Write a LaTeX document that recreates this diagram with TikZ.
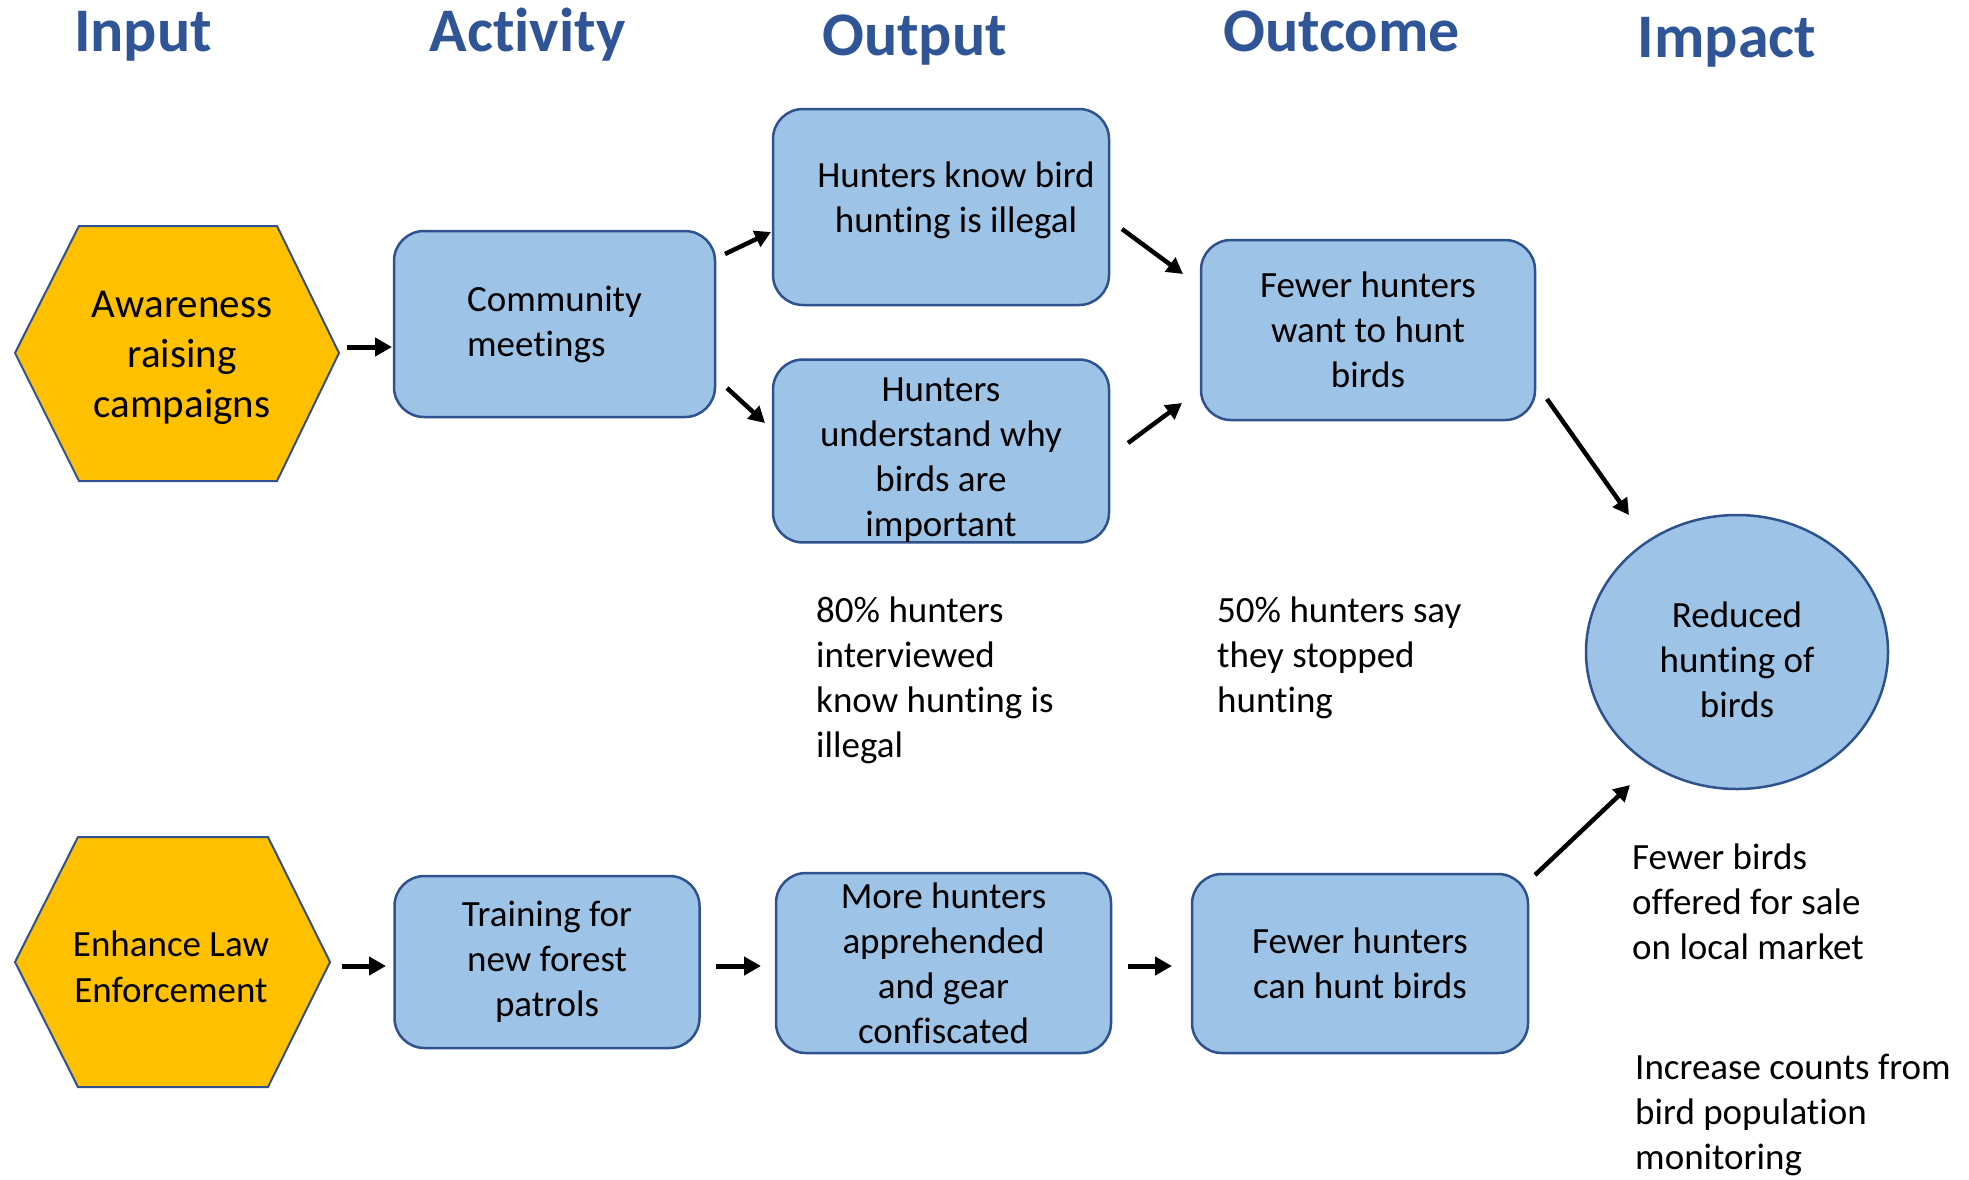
\documentclass[tikz,border=0pt]{standalone}
\usepackage{fontspec}
\setmainfont{Carlito}[RawFeature={-liga;-calt;-dlig;-clig}]
\usetikzlibrary{arrows.meta,shapes.geometric}
\definecolor{boxfill}{HTML}{9DC3E6}
\definecolor{boxline}{HTML}{2F528F}
\definecolor{headblue}{HTML}{2F5597}
\definecolor{hexfill}{HTML}{FFC000}
\begin{document}
\begin{tikzpicture}[x=1pt,y=-1pt,
  header/.style={font=\fontsize{62}{74}\selectfont\bfseries, text=headblue, anchor=base, inner sep=0pt},
  box/.style={draw=boxline, fill=boxfill, line width=2.5pt, rounded corners=30pt, align=center,
    font=\fontsize{37}{45}\selectfont, inner sep=0pt},
  hexa/.style={draw=boxline, fill=hexfill, line width=2pt, line join=miter},
  hextext/.style={align=center, inner sep=0pt},
  note/.style={align=left, anchor=north west, inner sep=0pt, font=\fontsize{37}{45}\selectfont},
  arr/.style={line width=5pt, -{Triangle[length=17pt,width=18pt]}},
  darr/.style={line width=4.5pt, -{Triangle[length=16pt,width=17pt]}},
]
\fill[white] (0,0) rectangle (1969,1179);
\useasboundingbox (0,0) rectangle (1969,1179);

% headers
\node[header] (hin)  at (143,51)    {Input};
\node[header] (hact) at (527.5,51)  {Activity};
\node[header] (hout) at (914.5,55)  {Output};
\node[header] (hoc)  at (1341.5,51) {Outcome};
\node[header] (himp) at (1727,57)   {Impact};

% hexagons
\draw[hexa] (15,353) -- (79,226) -- (277,226) -- (339,353) -- (277,481) -- (79,481) -- cycle;
\node[hextext, font=\fontsize{41}{50}\selectfont] (aware) at (182,358) {Awareness\\raising\\campaigns};
\draw[hexa] (15,962) -- (78,837) -- (268,837) -- (330,962) -- (268,1087) -- (78,1087) -- cycle;
\node[hextext, font=\fontsize{37}{46}\selectfont] (law) at (171,967) {Enhance Law\\Enforcement};

% boxes
\node[box, align=left, minimum width=321pt, minimum height=186pt] (comm) at (554.5,324) {Community\\meetings};
\node[box, minimum width=336pt, minimum height=196pt] (know) at (941,207)
  {\hspace*{30pt}Hunters know bird\\\hspace*{30pt}hunting is illegal\rule[-20pt]{0pt}{20pt}};
\node[box, minimum width=336pt, minimum height=180pt] (under) at (941,451)
  {\rule{0pt}{42pt}Hunters\\understand why\\birds are\\important};
\node[box, minimum width=334pt, minimum height=180pt] (want) at (1368,330)
  {Fewer hunters\\want to hunt\\birds};
\node[box, minimum width=305pt, minimum height=172pt] (train) at (547,962)
  {Training for\\new forest\\patrols};
\node[box, minimum width=335pt, minimum height=180pt] (more) at (943.5,963)
  {More hunters\\apprehended\\and gear\\confiscated};
\node[box, minimum width=336pt, minimum height=179pt] (can) at (1360,963.5)
  {Fewer hunters\\can hunt birds};
\node[ellipse, draw=boxline, fill=boxfill, line width=2.5pt, align=center, inner sep=0pt,
  font=\fontsize{37}{45}\selectfont, minimum width=302pt, minimum height=274pt] (reduced) at (1737,652)
  {\rule{0pt}{42pt}Reduced\\hunting of\\birds};

% notes
\node[note] (n80) at (816,597) {80\% hunters\\interviewed\\know hunting is\\illegal};
\node[note] (n50) at (1217,597) {50\% hunters say\\they stopped\\hunting};
\node[note] (nfew) at (1632,844) {Fewer birds\\offered for sale\\on local market};
\node[note] (ninc) at (1635,1054) {Increase counts from\\bird population\\monitoring};

% arrow end points
\coordinate (a1s) at (347,347);   \coordinate (a1e) at (392,347);
\coordinate (a2s) at (725,254);   \coordinate (a2e) at (771,232);
\coordinate (a3s) at (727,388);   \coordinate (a3e) at (765,423);
\coordinate (a4s) at (1122,229);  \coordinate (a4e) at (1183,274);
\coordinate (a5s) at (1128,443);  \coordinate (a5e) at (1182,403);
\coordinate (a6s) at (1547,399);  \coordinate (a6e) at (1629,515);
\coordinate (a7s) at (342,966);   \coordinate (a7e) at (386,966);
\coordinate (a8s) at (716,966);   \coordinate (a8e) at (761,966);
\coordinate (a9s) at (1128,966);  \coordinate (a9e) at (1172,966);
\coordinate (a10s) at (1535,875); \coordinate (a10e) at (1630,785);

\draw[arr]  (a1s) -- (a1e);
\draw[darr] (a2s) -- (a2e);
\draw[darr] (a3s) -- (a3e);
\draw[darr] (a4s) -- (a4e);
\draw[darr] (a5s) -- (a5e);
\draw[darr] (a6s) -- (a6e);
\draw[arr]  (a7s) -- (a7e);
\draw[arr]  (a8s) -- (a8e);
\draw[arr]  (a9s) -- (a9e);
\draw[darr] (a10s) -- (a10e);
\end{tikzpicture}
\end{document}
